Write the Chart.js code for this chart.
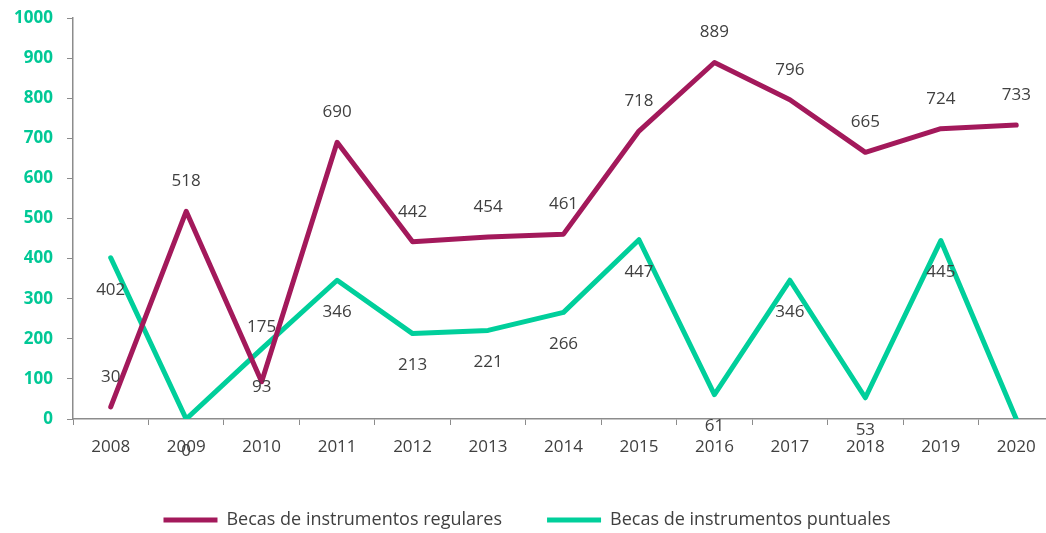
<!DOCTYPE html>
<html>
<head>
<meta charset="utf-8">
<script src="https://cdn.jsdelivr.net/npm/chart.js@4.4.0/dist/chart.umd.min.js"></script>
<style>
  html, body { margin: 0; padding: 0; background: #fff; overflow: hidden; }
  #wrap { width: 1054px; height: 533px; position: relative; }
</style>
</head>
<body>
<div id="wrap"><canvas id="chart"></canvas></div>
<script>
// Data
const years = ['2008', '2009', '2010', '2011', '2012', '2013', '2014', '2015', '2016', '2017', '2018', '2019', '2020'];
const regulares = [30, 518, 93, 690, 442, 454, 461, 718, 889, 796, 665, 724, 733];
const puntuales = [402, 0, 175, 346, 213, 221, 266, 447, 61, 346, 53, 445, 0];
const yTicks = [0, 100, 200, 300, 400, 500, 600, 700, 800, 900, 1000];

// where each value label sits relative to its point
const regularesLabelPos = ['above', 'above', 'near', 'above', 'above', 'above', 'above', 'above', 'above', 'above', 'above', 'above', 'above'];
const puntualesLabelPos = ['below', 'below', 'aboveNear', 'below', 'below', 'below', 'below', 'below', 'below', 'below', 'below', 'below', 'none'];

const labelOffsets = { above: -30, below: 32, near: 5, aboveNear: -22 };

const REG_COLOR = '#a3195b';
const PUN_COLOR = '#00cf9b';
const TEXT_GRAY = '#404040';
const AXIS_GRAY = '#8c8c8c';

// Draw value labels next to points
const valueLabels = {
  id: 'valueLabels',
  afterDatasetsDraw(chart) {
    const ctx = chart.ctx;
    ctx.save();
    ctx.font = '17px "Open Sans"';
    ctx.fillStyle = TEXT_GRAY;
    ctx.textAlign = 'center';
    ctx.textBaseline = 'middle';
    chart.data.datasets.forEach((ds, di) => {
      const meta = chart.getDatasetMeta(di);
      meta.data.forEach((pt, i) => {
        const pos = ds.labelPos[i];
        if (pos === 'none') return;
        ctx.fillText(String(ds.data[i]), pt.x, pt.y + labelOffsets[pos]);
      });
    });
    ctx.restore();
  }
};

const ctx = document.getElementById('chart').getContext('2d');
new Chart(ctx, {
  type: 'line',
  data: {
    labels: years,
    datasets: [
      {
        label: 'Becas de instrumentos regulares',
        data: regulares,
        labelPos: regularesLabelPos,
        borderColor: REG_COLOR,
        backgroundColor: REG_COLOR,
        borderWidth: 5,
        borderCapStyle: 'round',
        borderJoinStyle: 'round',
        pointRadius: 0,
        pointStyle: 'line',
        tension: 0
      },
      {
        label: 'Becas de instrumentos puntuales',
        data: puntuales,
        labelPos: puntualesLabelPos,
        borderColor: PUN_COLOR,
        backgroundColor: PUN_COLOR,
        borderWidth: 5,
        borderCapStyle: 'round',
        borderJoinStyle: 'round',
        pointRadius: 0,
        pointStyle: 'line',
        tension: 0
      }
    ]
  },
  options: {
    responsive: true,
    maintainAspectRatio: false,
    animation: false,
    layout: { padding: { top: 18, left: 0, right: 0, bottom: -6 } },
    plugins: {
      tooltip: { enabled: false },
      legend: {
        position: 'bottom',
        labels: {
          usePointStyle: true,
          pointStyleWidth: 54,
          padding: 45,
          color: TEXT_GRAY,
          font: { family: '"Open Sans"', size: 18 }
        }
      }
    },
    scales: {
      x: {
        offset: true,
        grid: {
          display: true,
          offset: true,
          drawOnChartArea: false,
          tickLength: 6,
          color: AXIS_GRAY
        },
        border: { color: AXIS_GRAY, width: 1.5 },
        ticks: {
          color: TEXT_GRAY,
          padding: 12,
          maxRotation: 0,
          font: { family: '"Open Sans"', size: 17 }
        },
        afterFit(scale) { scale.height = 47; }
      },
      y: {
        min: 0,
        max: 1000,
        afterBuildTicks(scale) { scale.ticks = yTicks.map(v => ({ value: v })); },
        grid: {
          display: true,
          drawOnChartArea: false,
          tickLength: 6,
          color: AXIS_GRAY
        },
        border: { color: AXIS_GRAY, width: 1.5 },
        ticks: {
          color: '#00c896',
          padding: 14,
          callback: v => String(v),
          font: { family: '"Open Sans"', size: 17, weight: 'bold' }
        },
        afterFit(scale) {
          scale.width = 73;
          scale.paddingTop = 0;
          scale.paddingBottom = 0;
        }
      }
    }
  },
  plugins: [valueLabels]
});
</script>
</body>
</html>
